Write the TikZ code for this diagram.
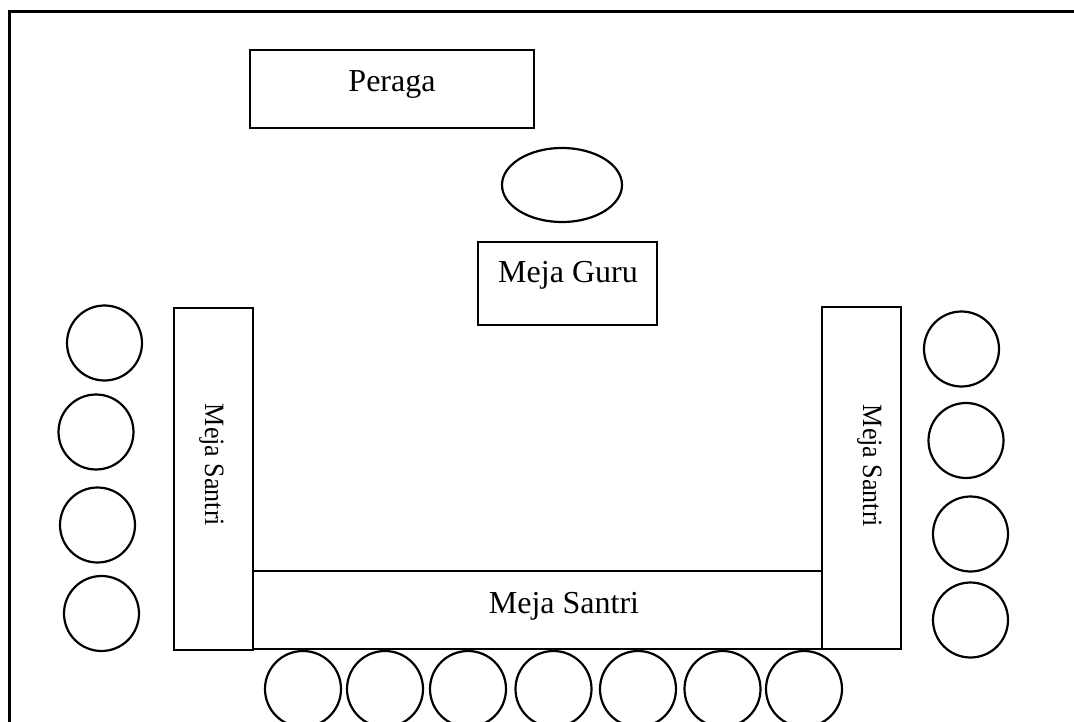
\documentclass[tikz,border=0pt]{standalone}
\usepackage{fontspec}
\setmainfont{Liberation Serif}
\usetikzlibrary{shapes.geometric}

\begin{document}
\begin{tikzpicture}[x=1pt,y=-1pt,
        meja/.style={draw=black,line width=1.3pt,rectangle,inner sep=0pt},
        kursi/.style={draw=black,line width=2.2pt,circle,inner sep=0pt,minimum size=75pt},
        teks/.style={inner sep=0pt,font=\fontsize{32}{38}\selectfont},
        tegak/.style={inner sep=0pt,anchor=base,rotate=-90,font=\fontsize{28}{33}\selectfont}]
        \useasboundingbox (0,0) rectangle (1074,722);
        \clip (0,0) rectangle (1074,722);
        \draw[line width=3pt] (9,12) rectangle (1120,780);

        \node[meja,minimum width=284pt,minimum height=78pt] (peraga) at (392,89) {};
        \node[teks,anchor=base] (tperaga) at (392,92) {Peraga};
        \node[draw=black,line width=2.2pt,ellipse,inner sep=0pt,minimum width=120pt,minimum height=74pt] (kursiguru) at (562,185) {};
        \node[meja,minimum width=179pt,minimum height=83pt] (guru) at (567.5,283.5) {};
        \node[teks,anchor=base] (tguru) at (568,283) {Meja Guru};

        \node[meja,minimum width=79pt,minimum height=342pt] (kiri) at (213.5,479) {};
        \node[tegak] (tkiri) at (205,465) {\scalebox{0.93}[1]{Meja Santri}};
        \node[meja,minimum width=79pt,minimum height=342pt] (kanan) at (861.5,478) {};
        \node[tegak] (tkanan) at (863,466) {\scalebox{0.93}[1]{Meja Santri}};
        \node[meja,minimum width=569pt,minimum height=78pt] (bawah) at (537.5,610) {};
        \node[teks,anchor=base] (tbawah) at (564,613) {Meja Santri};

        \node[kursi] (k1) at (104.5,343) {};
        \node[kursi,minimum height=67pt] (k2) at (96,432) {};
        \node[kursi] (k3) at (97.5,525) {};
        \node[kursi] (k4) at (101.5,613.5) {};

        \node[kursi] (k5) at (961.5,349) {};
        \node[kursi] (k6) at (966,440.5) {};
        \node[kursi] (k7) at (970.5,534) {};
        \node[kursi] (k8) at (970.5,620) {};

        \node[kursi,minimum size=76pt] (k9) at (303,689) {};
        \node[kursi,minimum size=76pt] (k10) at (385,689) {};
        \node[kursi,minimum size=76pt] (k11) at (468,689) {};
        \node[kursi,minimum size=76pt] (k12) at (553.5,689) {};
        \node[kursi,minimum size=76pt] (k13) at (638,689) {};
        \node[kursi,minimum size=76pt] (k14) at (722.5,689) {};
        \node[kursi,minimum size=76pt] (k15) at (804,689) {};
    \end{tikzpicture}
\end{document}
